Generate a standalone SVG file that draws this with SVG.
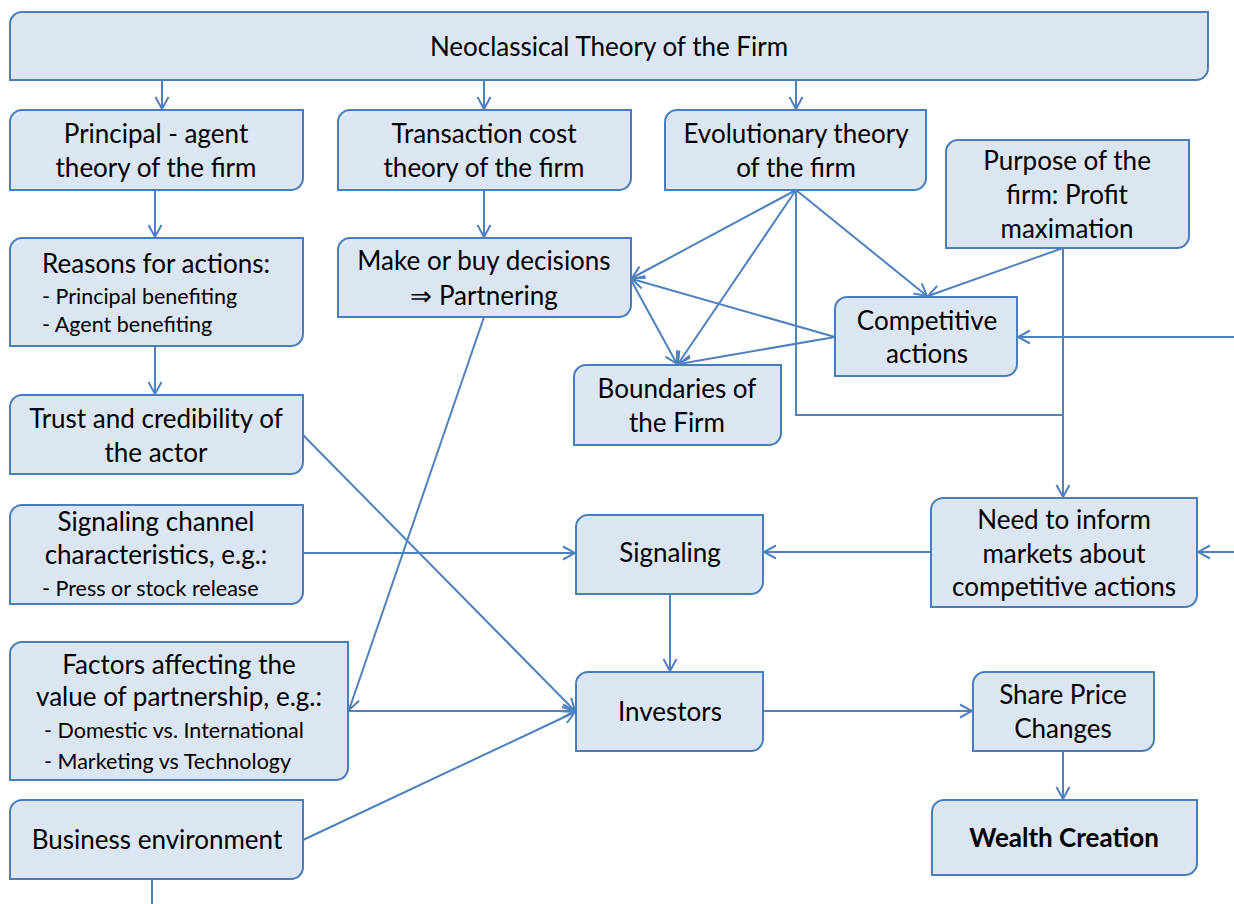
<svg xmlns="http://www.w3.org/2000/svg" width="1234" height="904" viewBox="0 0 1234 904">
  <style>
    .box { fill: #dce6f2; stroke: #4a7ebb; stroke-width: 2; }
    .t { font-family: Lato, "Open Sans", "Liberation Sans", sans-serif; font-size: 26px; fill: #000; text-anchor: middle; }
    .s { font-family: Lato, "Open Sans", "Liberation Sans", sans-serif; font-size: 21.5px; fill: #000; }
    .b { font-weight: bold; }
    .c { fill: none; stroke: #4f81bd; stroke-width: 2; }
    .a { marker-end: url(#arr); }
  </style>
  <defs>
    <marker id="arr" markerUnits="userSpaceOnUse" markerWidth="16" markerHeight="16" viewBox="0 0 16 16" refX="14" refY="8" orient="auto">
      <path d="M2,1.5 L14,8 L2,14.5" fill="none" stroke="#4f81bd" stroke-width="2"/>
    </marker>
  </defs>

  <rect width="1234" height="904" fill="#fff"/>

  <g id="connectors">
    <path class="c a" d="M162,80 V109"/>
    <path class="c a" d="M484,80 V109"/>
    <path class="c a" d="M796,80 V109"/>
    <path class="c a" d="M155,190 V237"/>
    <path class="c a" d="M155,346 V394"/>
    <path class="c a" d="M484,190 V237"/>
    <path class="c a" d="M796,190 L632,278"/>
    <path class="c a" d="M796,190 L678,364"/>
    <path class="c a" d="M796,190 L927,296"/>
    <path class="c" d="M796,190 V415 H1063"/>
    <path class="c a" d="M1063,248 L928,296"/>
    <path class="c a" d="M1063,248 V497"/>
    <path class="c a" d="M835,337 L632,279"/>
    <path class="c a" d="M835,337 L679,364"/>
    <path class="c a" d="M631,280 L677,364"/>
    <path class="c a" d="M1234,337 H1018"/>
    <path class="c a" d="M1234,552 H1198"/>
    <path class="c a" d="M931,552 H764"/>
    <path class="c a" d="M303,553 H575"/>
    <path class="c a" d="M670,594 V671"/>
    <path class="c a" d="M303,435 L575,711"/>
    <path class="c a" d="M484,317 L349,710"/>
    <path class="c a" d="M348,711 H575"/>
    <path class="c a" d="M303,840 L575,712"/>
    <path class="c a" d="M763,711 H972"/>
    <path class="c a" d="M1063,751 V799"/>
    <path class="c" d="M152,879 V904"/>
  </g>

  <g id="neoclassical">
    <path class="box" d="M22,12 H1208 V68 A12,12 0 0 1 1196,80 H10 V24 A12,12 0 0 1 22,12 Z"/>
    <text class="t" x="609" y="56">Neoclassical Theory of the Firm</text>
  </g>
  <g id="principal-agent">
    <path class="box" d="M22,110 H303 V178 A12,12 0 0 1 291,190 H10 V122 A12,12 0 0 1 22,110 Z"/>
    <text class="t" x="156" y="143">Principal - agent</text>
    <text class="t" x="156" y="177">theory of the firm</text>
  </g>
  <g id="transaction-cost">
    <path class="box" d="M350,110 H631 V178 A12,12 0 0 1 619,190 H338 V122 A12,12 0 0 1 350,110 Z"/>
    <text class="t" x="484" y="143">Transaction cost</text>
    <text class="t" x="484" y="177">theory of the firm</text>
  </g>
  <g id="evolutionary">
    <path class="box" d="M677,110 H926 V178 A12,12 0 0 1 914,190 H665 V122 A12,12 0 0 1 677,110 Z"/>
    <text class="t" x="796" y="143">Evolutionary theory</text>
    <text class="t" x="796" y="177">of the firm</text>
  </g>
  <g id="purpose">
    <path class="box" d="M958,140 H1189 V236 A12,12 0 0 1 1177,248 H946 V152 A12,12 0 0 1 958,140 Z"/>
    <text class="t" x="1067" y="170">Purpose of the</text>
    <text class="t" x="1067" y="204">firm: Profit</text>
    <text class="t" x="1067" y="238">maximation</text>
  </g>
  <g id="reasons">
    <path class="box" d="M22,238 H303 V334 A12,12 0 0 1 291,346 H10 V250 A12,12 0 0 1 22,238 Z"/>
    <text class="t" x="156" y="273">Reasons for actions:</text>
    <text class="s" x="42" y="304">- Principal benefiting</text>
    <text class="s" x="42" y="332">- Agent benefiting</text>
  </g>
  <g id="make-or-buy">
    <path class="box" d="M350,238 H631 V305 A12,12 0 0 1 619,317 H338 V250 A12,12 0 0 1 350,238 Z"/>
    <text class="t" x="484" y="270">Make or buy decisions</text>
    <text class="t" x="484" y="305">⇒ Partnering</text>
  </g>
  <g id="competitive">
    <path class="box" d="M847,297 H1017 V364 A12,12 0 0 1 1005,376 H835 V309 A12,12 0 0 1 847,297 Z"/>
    <text class="t" x="927" y="330">Competitive</text>
    <text class="t" x="927" y="363">actions</text>
  </g>
  <g id="boundaries">
    <path class="box" d="M586,365 H781 V433 A12,12 0 0 1 769,445 H574 V377 A12,12 0 0 1 586,365 Z"/>
    <text class="t" x="677" y="398">Boundaries of</text>
    <text class="t" x="677" y="432">the Firm</text>
  </g>
  <g id="trust">
    <path class="box" d="M22,395 H303 V462 A12,12 0 0 1 291,474 H10 V407 A12,12 0 0 1 22,395 Z"/>
    <text class="t" x="156" y="428">Trust and credibility of</text>
    <text class="t" x="156" y="462">the actor</text>
  </g>
  <g id="signaling-channel">
    <path class="box" d="M22,505 H303 V592 A12,12 0 0 1 291,604 H10 V517 A12,12 0 0 1 22,505 Z"/>
    <text class="t" x="156" y="531">Signaling channel</text>
    <text class="t" x="156" y="564">characteristics, e.g.:</text>
    <text class="s" x="42" y="596">- Press or stock release</text>
  </g>
  <g id="signaling">
    <path class="box" d="M588,515 H763 V582 A12,12 0 0 1 751,594 H576 V527 A12,12 0 0 1 588,515 Z"/>
    <text class="t" x="670" y="562">Signaling</text>
  </g>
  <g id="need-to-inform">
    <path class="box" d="M943,498 H1197 V595 A12,12 0 0 1 1185,607 H931 V510 A12,12 0 0 1 943,498 Z"/>
    <text class="t" x="1064" y="529">Need to inform</text>
    <text class="t" x="1064" y="563">markets about</text>
    <text class="t" x="1064" y="596">competitive actions</text>
  </g>
  <g id="factors">
    <path class="box" d="M22,642 H348 V768 A12,12 0 0 1 336,780 H10 V654 A12,12 0 0 1 22,642 Z"/>
    <text class="t" x="179" y="674">Factors affecting the</text>
    <text class="t" x="179" y="706">value of partnership, e.g.:</text>
    <text class="s" x="44" y="738">- Domestic vs. International</text>
    <text class="s" x="44" y="769">- Marketing vs Technology</text>
  </g>
  <g id="investors">
    <path class="box" d="M588,672 H763 V739 A12,12 0 0 1 751,751 H576 V684 A12,12 0 0 1 588,672 Z"/>
    <text class="t" x="670" y="721">Investors</text>
  </g>
  <g id="share-price">
    <path class="box" d="M985,672 H1154 V739 A12,12 0 0 1 1142,751 H973 V684 A12,12 0 0 1 985,672 Z"/>
    <text class="t" x="1063" y="704">Share Price</text>
    <text class="t" x="1063" y="738">Changes</text>
  </g>
  <g id="wealth-creation">
    <path class="box" d="M944,800 H1197 V863 A12,12 0 0 1 1185,875 H932 V812 A12,12 0 0 1 944,800 Z"/>
    <text class="t b" x="1064" y="847">Wealth Creation</text>
  </g>
  <g id="business-environment">
    <path class="box" d="M22,800 H303 V867 A12,12 0 0 1 291,879 H10 V812 A12,12 0 0 1 22,800 Z"/>
    <text class="t" x="157" y="849">Business environment</text>
  </g>
</svg>
